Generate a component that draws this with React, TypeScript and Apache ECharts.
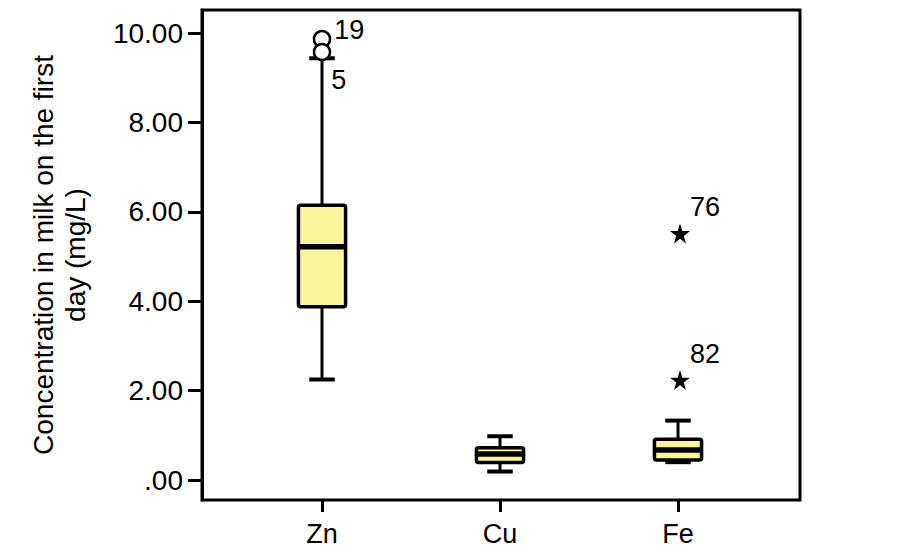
import React, { useEffect, useRef } from "react";
import * as echarts from "echarts";

const categories = ["Zn", "Cu", "Fe"];
// [categoryIndex, lowerWhisker, Q1, median, Q3, upperWhisker]
const boxStats = [
  [0, 2.25, 3.88, 5.22, 6.15, 9.44],
  [1, 0.19, 0.39, 0.58, 0.72, 0.98],
  [2, 0.4, 0.45, 0.67, 0.91, 1.33],
];
// [categoryIndex, value, case id]
const outliers = [
  [0, 9.87, "19"],
  [0, 9.58, "5"],
];
const extremes = [
  [2, 5.52, "76"],
  [2, 2.24, "82"],
];
const yTicks = [0, 2, 4, 6, 8, 10];
const yTitle = "Concentration in milk on the first\nday (mg/L)";

const FONT = "'Liberation Sans', Arial, Helvetica, sans-serif";
const STAR =
  "path://M50,0 L61,35 L98,35 L68,57 L79,91 L50,70 L21,91 L32,57 L2,35 L39,35 Z";

export default function App() {
  const ref = useRef<HTMLDivElement>(null);
  useEffect(() => {
    if (!ref.current) return;
    const chart = echarts.init(ref.current, undefined, { renderer: "svg" });
    const yMin = -0.447;
    const yMax = 10.52;
    const option: any = {
      animation: false,
      backgroundColor: "#ffffff",
      grid: [
        {
          left: 202,
          right: 106,
          top: 10,
          bottom: 60,
          show: true,
          borderColor: "#000",
          borderWidth: 3,
          backgroundColor: "transparent",
        },
        { left: 233, right: 139, top: 10, bottom: 60 },
      ],
      xAxis: [
        { type: "value", gridIndex: 0, show: false, min: 0, max: 1 },
        {
          type: "category",
          gridIndex: 1,
          data: categories,
          boundaryGap: true,
          axisLine: { show: false, onZero: false },
          axisTick: {
            show: true,
            alignWithLabel: true,
            length: 12,
            lineStyle: { color: "#000", width: 3 },
          },
          axisLabel: {
            color: "#000",
            fontSize: 27,
            fontFamily: FONT,
            margin: 20,
          },
          splitLine: { show: false },
        },
      ],
      yAxis: [
        {
          type: "value",
          gridIndex: 0,
          min: yMin,
          max: yMax,
          name: yTitle,
          nameLocation: "middle",
          nameRotate: 90,
          nameGap: 111,
          nameTextStyle: {
            color: "#000",
            fontSize: 28,
            fontFamily: FONT,
            lineHeight: 32,
          },
          axisLine: { show: true, lineStyle: { color: "#000", width: 3 } },
          axisTick: {
            show: true,
            length: 14,
            customValues: yTicks,
            lineStyle: { color: "#000", width: 3 },
          },
          axisLabel: {
            customValues: yTicks,
            color: "#000",
            fontSize: 28,
            fontFamily: FONT,
            margin: 19,
            formatter: (v: number) => (v === 0 ? ".00" : v.toFixed(2)),
          },
          splitLine: { show: false },
        },
        {
          type: "value",
          gridIndex: 1,
          min: yMin,
          max: yMax,
          show: false,
          splitLine: { show: false },
        },
      ],
      series: [
        {
          type: "custom",
          xAxisIndex: 1,
          yAxisIndex: 1,
          encode: { x: 0, y: [1, 2, 3, 4, 5] },
          data: boxStats,
          renderItem: (params: any, api: any) => {
            const c = api.value(0);
            const lo = api.coord([c, api.value(1)]);
            const q1 = api.coord([c, api.value(2)]);
            const med = api.coord([c, api.value(3)]);
            const q3 = api.coord([c, api.value(4)]);
            const hi = api.coord([c, api.value(5)]);
            const band = api.size([1, 0])[0];
            const bw = band * 0.265;
            const cw = bw * 0.27;
            const cx = med[0];
            const stroke = { stroke: "#000", lineWidth: 3 };
            return {
              type: "group",
              children: [
                {
                  type: "line",
                  shape: { x1: cx, y1: hi[1], x2: cx, y2: q3[1] },
                  style: stroke,
                },
                {
                  type: "line",
                  shape: { x1: cx, y1: q1[1], x2: cx, y2: lo[1] },
                  style: stroke,
                },
                {
                  type: "line",
                  shape: { x1: cx - cw, y1: hi[1], x2: cx + cw, y2: hi[1] },
                  style: { stroke: "#000", lineWidth: 4 },
                },
                {
                  type: "line",
                  shape: { x1: cx - cw, y1: lo[1], x2: cx + cw, y2: lo[1] },
                  style: { stroke: "#000", lineWidth: 4 },
                },
                {
                  type: "rect",
                  shape: {
                    x: cx - bw / 2,
                    y: q3[1],
                    width: bw,
                    height: q1[1] - q3[1],
                    r: 2,
                  },
                  style: { fill: "#FAF59C", stroke: "#000", lineWidth: 3.5 },
                },
                {
                  type: "line",
                  shape: {
                    x1: cx - bw / 2,
                    y1: med[1],
                    x2: cx + bw / 2,
                    y2: med[1],
                  },
                  style: { stroke: "#000", lineWidth: 5.5 },
                },
              ],
            };
          },
        },
        {
          type: "scatter",
          xAxisIndex: 1,
          yAxisIndex: 1,
          symbol: "circle",
          symbolSize: 16,
          itemStyle: {
            color: "#fff",
            borderColor: "#000",
            borderWidth: 2.5,
            opacity: 1,
          },
          data: outliers.map((o, i) => ({
            value: [o[0], o[1]],
            label: {
              show: true,
              formatter: String(o[2]),
              position: "right",
              distance: 0,
              offset: i === 0 ? [3, -9] : [0, 28],
              color: "#000",
              fontSize: 27,
              fontFamily: FONT,
            },
          })),
        },
        {
          type: "scatter",
          xAxisIndex: 1,
          yAxisIndex: 1,
          symbol: STAR,
          symbolSize: 20,
          symbolOffset: [2, 0],
          itemStyle: { color: "#000", opacity: 1 },
          data: extremes.map((o) => ({
            value: [o[0], o[1]],
            label: {
              show: true,
              formatter: String(o[2]),
              position: "right",
              distance: 0,
              offset: [0, -26],
              color: "#000",
              fontSize: 27,
              fontFamily: FONT,
            },
          })),
        },
      ],
    };
    chart.setOption(option);
    return () => chart.dispose();
  }, []);
  return (
    <div
      ref={ref}
      style={{ position: "absolute", left: 0, top: 0, width: 906, height: 560 }}
    />
  );
}
